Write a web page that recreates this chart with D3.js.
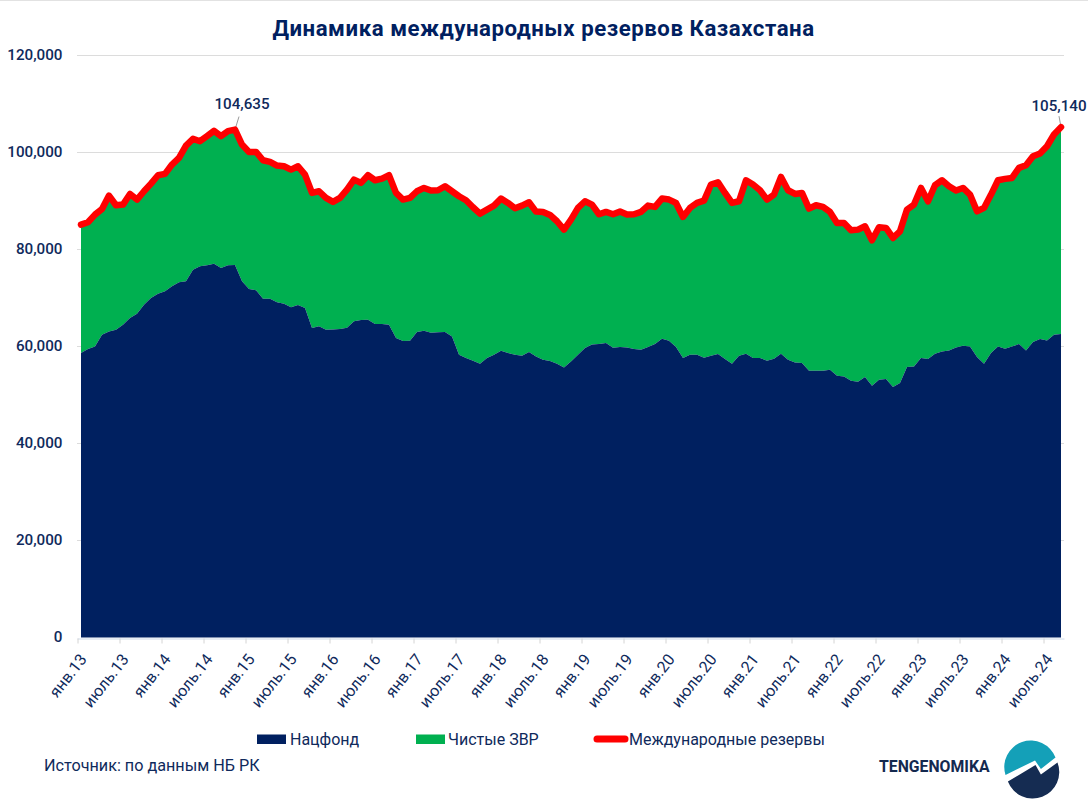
<!DOCTYPE html>
<html lang="ru">
<head>
<meta charset="utf-8">
<script src="https://cdn.jsdelivr.net/npm/d3@7"></script>
<style>
html,body{margin:0;padding:0;background:#fff}
svg{display:block}
text{font-family:Roboto,"Noto Sans",sans-serif;fill:#0f2a5c;font-weight:500}
.reg{font-weight:400}
</style>
</head>
<body>
<svg id="c" width="1088" height="807"></svg>
<script>
const titleText = "Динамика международных резервов Казахстана";
const seriesNames = ["Нацфонд", "Чистые ЗВР", "Международные резервы"];
const sourceText = "Источник: по данным НБ РК";
const brandText = "TENGENOMIKA";
const monthNames = ["янв","фев","март","апр","май","июнь","июль","авг","сен","окт","нояб","дек"];
const yearLabels = ["13","14","15","16","17","18","19","20","21","22","23","24"];
const yTicks = [0,20000,40000,60000,80000,100000,120000];

const natFund = [58596,59422,59971,62377,63064,63407,64438,65813,66706,68562,69937,70830,
71311,72342,73168,73373,75779,76466,76672,77016,76122,76672,76741,73373,
71792,71517,69799,69799,69043,68768,68012,68493,67875,63751,64095,63407,
63476,63545,63820,65126,65401,65469,64576,64576,64438,61689,61072,61141,
62928,63203,62791,62859,62928,62034,58254,57566,57017,56398,57566,58254,
59079,58598,58254,58048,58804,57910,57223,56948,56398,55642,56880,58254,
59629,60385,60453,60660,59698,59835,59767,59423,59285,59835,60453,61553,
61141,59835,57566,58254,58254,57636,58048,58392,57360,56397,58047,58460,
57566,57566,57016,57428,58460,57222,56672,56534,54953,54953,54953,55160,
53923,53785,52891,52685,53648,51861,53098,53236,51586,52411,55711,55847,
57566,57360,58460,58941,59147,59765,60108,59971,57772,56397,58596,59971,
59490,59971,60452,59147,60864,61484,61209,62377,62515];

const intlReserves = [85058,85539,87119,88288,91037,89044,89181,91381,90212,91930,93512,95230,
95505,97429,98803,101346,102721,102240,103271,104371,103271,104302,104635,101553,
100041,100041,98322,97979,97223,97085,96398,97085,95367,91587,91930,90556,
89731,90556,92274,94336,93649,95230,94199,94542,95230,91587,90214,90557,
91932,92619,92069,92138,92963,91932,90901,90076,88633,87327,88152,88977,
90420,89526,88427,88977,89664,87739,87671,87052,85746,84028,86090,88495,
89870,89182,87190,87671,87190,87739,87121,87190,87671,88977,88702,90420,
90214,89526,86640,88495,89526,90007,93307,93787,91587,89525,89869,94199,
93305,92137,90212,91243,94886,92137,91381,91587,88357,89044,88700,87669,
85401,85401,83889,84026,84714,81827,84508,84370,82308,83683,88150,89181,
92618,89869,93168,94199,92962,92069,92618,91243,87807,88494,91243,94199,
94474,94680,96741,97291,99147,99697,101209,103615,105140];

const months = yearLabels.flatMap(y => monthNames.map(m => m + "." + y)).slice(0, natFund.length);
const xTickLabels = months.filter((d, i) => i % 6 === 0);
const callouts = [{i: 22, label: "104,635", dx: 4, dy: -13, ty: 109, tx: 242},
                  {i: 140, label: "105,140", dx: -2, dy: -11, ty: 111, tx: 1059}];

const svg = d3.select("#c");
const navy = "#002060", green = "#00b050", red = "#ff0000", ink = "#0f2a5c";

const x = d3.scalePoint().domain(months).range([81, 1061]);
const y = d3.scaleLinear().domain([0, 120000]).range([637.5, 55]);

// thin top edge
svg.append("rect").attr("width", 1088).attr("height", 1).attr("fill", "#e2e2e2");

// title
svg.append("text").attr("x", 543.5).attr("y", 36).attr("text-anchor", "middle")
  .attr("font-size", 22.2).style("font-weight", 700).style("letter-spacing", "0.55px")
  .style("fill", navy).text(titleText);

// grid
svg.append("g").selectAll("line").data(yTicks.slice(1)).join("line")
  .attr("x1", 77).attr("x2", 1064)
  .attr("y1", d => Math.round(y(d)) + .5).attr("y2", d => Math.round(y(d)) + .5)
  .attr("stroke", "#dcdcdc").attr("stroke-width", 1);

// areas
const idx = d3.range(months.length);
svg.append("path").attr("fill", green).attr("d",
  d3.area().x(i => x(months[i])).y0(i => y(natFund[i])).y1(i => y(intlReserves[i]))(idx));
svg.append("path").attr("fill", navy).attr("d",
  d3.area().x(i => x(months[i])).y0(y(0)).y1(i => y(natFund[i]))(idx));

// callout leaders (under the line)
svg.append("g").selectAll("line").data(callouts).join("line")
  .attr("x1", d => x(months[d.i])).attr("y1", d => y(intlReserves[d.i]))
  .attr("x2", d => x(months[d.i]) + d.dx).attr("y2", d => y(intlReserves[d.i]) + d.dy)
  .attr("stroke", "#9a9a9a").attr("stroke-width", 1);

// reserves line
svg.append("path").attr("fill", "none").attr("stroke", red).attr("stroke-width", 6.5)
  .attr("stroke-linejoin", "round").attr("stroke-linecap", "round")
  .attr("d", d3.line().x(i => x(months[i])).y(i => y(intlReserves[i]))(idx));

// callout labels
svg.append("g").selectAll("text").data(callouts).join("text")
  .attr("x", d => d.tx).attr("y", d => d.ty)
  .attr("text-anchor", "middle").attr("font-size", 15.2).text(d => d.label);

// y axis labels
svg.append("g").selectAll("text").data(yTicks).join("text")
  .attr("x", 62.5).attr("y", d => y(d) + 4.8).attr("text-anchor", "end")
  .attr("font-size", 15.2).text(d3.format(","));

// x axis
const gx = svg.append("g").attr("transform", "translate(0,638.5)")
  .call(d3.axisBottom(x).tickValues(xTickLabels).tickSizeOuter(0).tickSize(5).tickPadding(4));
gx.select(".domain").attr("stroke", "#cfdbe8").attr("d", "M77.5,0.5H1064.5");
gx.selectAll(".tick line").attr("stroke", "#d4d4d4").attr("transform", "translate(-3.5,0)");
gx.selectAll(".tick text")
  .attr("text-anchor", "end").attr("dx", 0).attr("dy", 0).attr("y", 0)
  .attr("transform", "translate(6,21) rotate(-52)")
  .style("font-family", "Roboto,sans-serif").style("font-size", "16px").style("font-weight", 400).style("fill", ink);

// legend
const legend = svg.append("g");
legend.append("rect").attr("x", 257).attr("y", 734.5).attr("width", 29).attr("height", 9.5).attr("fill", navy);
legend.append("text").attr("class", "reg").attr("x", 290).attr("y", 739).attr("dy", 5.5).attr("font-size", 16).text(seriesNames[0]);
legend.append("rect").attr("x", 416).attr("y", 734.5).attr("width", 29).attr("height", 9.5).attr("fill", green);
legend.append("text").attr("class", "reg").attr("x", 448).attr("y", 739).attr("dy", 5.5).attr("font-size", 16).text(seriesNames[1]);
legend.append("line").attr("x1", 597).attr("x2", 625).attr("y1", 739).attr("y2", 739)
  .attr("stroke", red).attr("stroke-width", 7).attr("stroke-linecap", "round");
legend.append("text").attr("class", "reg").attr("x", 629).attr("y", 739).attr("dy", 5.5).attr("font-size", 16).text(seriesNames[2]);

// source
svg.append("text").attr("class", "reg").attr("x", 44).attr("y", 770.5).attr("font-size", 16.2).text(sourceText);

// brand
svg.append("text").attr("x", 879).attr("y", 771.5).attr("font-size", 15.8).style("font-weight", 700)
  .style("fill", "#14294f").text(brandText);

// logo
const logo = svg.append("g").attr("transform", "translate(1031.5,770)");
logo.append("path").attr("fill", "#14a0b8")
  .attr("d", "M-26,5 A26.5,26.5 0 0 1 24,-12.5 L9.4,-1 L3.5,-9.5 Z");
logo.append("path").attr("fill", "#152c52")
  .attr("d", "M-23.6,11.5 L4,-5 L9.4,4.5 L26,-7.6 A26.5,26.5 0 0 1 -23.6,11.5 Z");
</script>
</body>
</html>
